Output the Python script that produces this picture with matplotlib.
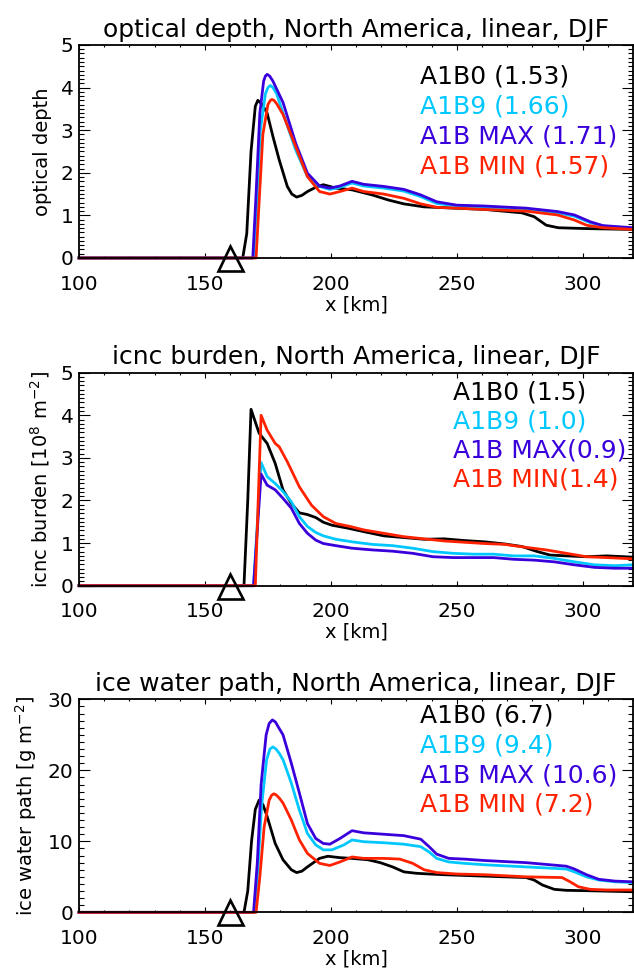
import numpy as np
import matplotlib
matplotlib.use("Agg")
import matplotlib.pyplot as plt
from matplotlib.ticker import MultipleLocator

plt.rcParams["font.family"] = ["DejaVu Sans"]

# ---------------- data ----------------
# optical depth
od_x_a1b0 = [100, 165, 166.6, 168.3, 170, 171, 172.5, 174.7, 177, 179.5, 182.7, 184.5, 186.4, 188.5, 190.7, 194, 197,
             202, 208.4, 216.4, 222.9, 229, 237, 245, 261, 275.8, 280.7, 285.5, 290.3, 301.5, 320]
od_y_a1b0 = [0, 0, 0.57, 2.5, 3.56, 3.7, 3.62, 3.4, 2.85, 2.3, 1.68, 1.5, 1.43, 1.47, 1.56, 1.66, 1.72,
             1.64, 1.6, 1.48, 1.36, 1.27, 1.2, 1.18, 1.14, 1.06, 0.97, 0.77, 0.71, 0.69, 0.67]
od_x_a1b9 = [100, 169.3, 170.5, 172, 174, 175, 176, 177, 178.5, 181, 186, 190.7, 195.5, 199.6, 203.6, 208.4, 213,
             221, 229, 235.7, 242, 250, 261, 277.5, 290, 296.7, 303, 308, 320]
od_y_a1b9 = [0, 0, 1.2, 3.0, 3.85, 4.0, 4.05, 4.0, 3.85, 3.4, 2.54, 1.91, 1.68, 1.61, 1.66, 1.76, 1.69,
             1.64, 1.57, 1.44, 1.28, 1.22, 1.19, 1.14, 1.06, 0.98, 0.83, 0.75, 0.69]
od_x_max = [100, 169, 170.3, 171.8, 173.3, 174, 174.7, 175.7, 177, 181, 186, 190.7, 195.5, 199.6, 203.6, 208.4, 213,
            221, 229, 235.7, 242, 250, 261, 277.5, 290, 296.7, 303, 308, 320]
od_y_max = [0, 0, 1.5, 3.4, 4.15, 4.27, 4.31, 4.27, 4.15, 3.65, 2.7, 1.99, 1.69, 1.64, 1.69, 1.8, 1.73,
            1.68, 1.61, 1.48, 1.32, 1.24, 1.22, 1.17, 1.09, 1.01, 0.85, 0.76, 0.71]
od_x_min = [100, 170.3, 171.5, 173, 175, 176, 176.6, 177.4, 178.5, 181, 186, 190.7, 195.5, 199.6, 203.6, 208.4, 213,
            221, 229, 235.7, 242, 250, 261, 277.5, 290, 296.7, 301.5, 308, 320]
od_y_min = [0, 0, 1.3, 2.9, 3.6, 3.7, 3.72, 3.7, 3.62, 3.37, 2.62, 1.91, 1.56, 1.5, 1.56, 1.64, 1.56,
            1.5, 1.4, 1.27, 1.19, 1.17, 1.14, 1.1, 1.01, 0.89, 0.77, 0.71, 0.67]

# icnc burden
ic_x_a1b0 = [100, 165.5, 167, 168.3, 171.5, 174.7, 177.9, 181, 184.3, 187.5, 190.7, 194, 197, 200.4, 206.8, 213,
             221, 229, 237, 245, 253, 261, 269, 275.8, 282, 287, 293.5, 301.5, 309.6, 320]
ic_y_a1b0 = [0, 0, 2.0, 4.14, 3.58, 3.34, 2.87, 2.25, 1.93, 1.71, 1.67, 1.6, 1.49, 1.42, 1.35, 1.27,
             1.17, 1.13, 1.09, 1.1, 1.06, 1.03, 0.98, 0.92, 0.8, 0.72, 0.7, 0.68, 0.7, 0.67]
ic_x_a1b9 = [100, 169.3, 172.3, 174.7, 177.9, 181, 184.3, 187.5, 190.7, 194, 197, 202, 208.4, 216.4, 224.5,
             232.5, 240.5, 248.5, 256.6, 264.6, 272.6, 280.7, 288.7, 296.7, 304.7, 312.8, 320]
ic_y_a1b9 = [0, 0, 2.89, 2.56, 2.4, 2.21, 1.97, 1.62, 1.39, 1.25, 1.17, 1.09, 1.03, 0.97, 0.94,
             0.88, 0.8, 0.76, 0.74, 0.74, 0.7, 0.7, 0.64, 0.56, 0.49, 0.47, 0.49]
ic_x_max = [100, 169.3, 172.3, 174.7, 177.9, 181, 184.3, 187.5, 190.7, 194, 197, 202, 208.4, 216.4, 224.5,
            232.5, 240.5, 248.5, 256.6, 264.6, 272.6, 280.7, 288.7, 296.7, 304.7, 312.8, 320]
ic_y_max = [0, 0, 2.62, 2.36, 2.25, 2.05, 1.82, 1.46, 1.23, 1.07, 0.99, 0.94, 0.88, 0.84, 0.81,
            0.76, 0.68, 0.66, 0.66, 0.66, 0.62, 0.6, 0.56, 0.49, 0.43, 0.41, 0.41]
ic_x_min = [100, 170, 172.3, 174.7, 177.9, 179.5, 182.7, 187.5, 192.3, 197, 202, 208.4, 213, 221, 229, 237,
            245, 253, 261, 269, 277.5, 285.5, 293.5, 301.5, 309.6, 320]
ic_y_min = [0, 0, 4.0, 3.65, 3.34, 3.26, 2.91, 2.32, 1.89, 1.62, 1.46, 1.38, 1.31, 1.23, 1.15, 1.1,
            1.05, 1.02, 0.99, 0.97, 0.9, 0.84, 0.76, 0.68, 0.66, 0.63]

# ice water path
iwp_x_a1b0 = [100, 165.5, 167, 168.5, 170, 171.5, 173, 174.7, 177.9, 181, 184.3, 186.4, 188.5, 190.7, 195.5, 198.8,
              203.6, 208.4, 214.8, 219.6, 224.5, 229, 234, 239, 245, 261, 277.5, 280.7, 284, 288.7, 293.5, 301.5, 320]
iwp_y_a1b0 = [0, 0, 3.0, 10.0, 14.5, 15.8, 15.2, 13.5, 9.7, 7.4, 6.0, 5.6, 5.8, 6.4, 7.6, 7.9,
              7.7, 7.6, 7.4, 7.0, 6.4, 5.7, 5.5, 5.4, 5.3, 5.1, 4.9, 4.55, 3.85, 3.24, 3.1, 3.05, 2.9]
iwp_x_a1b9 = [100, 169.5, 171, 172.5, 174.5, 175.8, 177, 178.2, 179.5, 181, 184.3, 187.5, 190.7, 194, 197, 200.4,
              205.2, 208.4, 213, 221, 229, 235.7, 239, 242, 246.8, 253, 261, 277.5, 293.5, 296.7, 301.5, 306.4,
              312.8, 320]
iwp_y_a1b9 = [0, 0, 6.0, 15.0, 21.5, 23.0, 23.3, 23.0, 22.4, 21.5, 18.2, 14.4, 11.1, 9.5, 8.8, 8.8,
              9.5, 10.2, 9.95, 9.8, 9.6, 9.25, 8.5, 7.6, 7.1, 6.9, 6.7, 6.4, 6.1, 5.7, 5.0, 4.55, 4.3, 4.2]
iwp_x_max = [100, 169.3, 170.8, 172.3, 174.3, 175.5, 176.8, 178, 179.3, 181, 184.3, 187.5, 190.7, 194, 197, 199.6,
             203.6, 208.4, 213, 221, 229, 235.7, 239, 242, 246.8, 253, 261, 277.5, 293.5, 296.7, 301.5, 306.4,
             312.8, 320]
iwp_y_max = [0, 0, 7.0, 18.0, 25.0, 26.6, 27.1, 26.8, 26.0, 25.0, 21.0, 16.8, 12.5, 10.4, 9.7, 9.6,
             10.4, 11.5, 11.2, 11.0, 10.8, 10.3, 9.25, 8.2, 7.6, 7.5, 7.3, 7.0, 6.5, 6.1, 5.3, 4.65, 4.4, 4.3]
iwp_x_min = [100, 170.3, 171.8, 173.5, 175.5, 176.5, 177.4, 178.4, 179.5, 181, 184.3, 187.5, 190.7, 195.5, 199.6,
             203.6, 208.4, 213, 221, 227.4, 232.5, 237, 242, 250, 261, 277.5, 291.8, 295, 298.3, 303, 309.6, 320]
iwp_y_min = [0, 0, 5.0, 12.0, 15.8, 16.5, 16.7, 16.5, 16.1, 15.4, 13.0, 10.2, 8.3, 6.9, 6.6,
             7.1, 7.8, 7.6, 7.6, 7.5, 6.9, 6.0, 5.6, 5.4, 5.3, 5.0, 4.9, 4.3, 3.6, 3.24, 3.15, 3.15]

# legend labels (mean values in brackets)
od_labels = ["A1B0 (1.53)", "A1B9 (1.66)", "A1B MAX (1.71)", "A1B MIN (1.57)"]
ic_labels = ["A1B0 (1.5)", "A1B9 (1.0)", "A1B MAX(0.9)", "A1B MIN(1.4)"]
iwp_labels = ["A1B0 (6.7)", "A1B9 (9.4)", "A1B MAX (10.6)", "A1B MIN (7.2)"]

mountain_x = 160.0
mountain_y = 0.0

colors = ["black", "#00c8ff", "#3a00dc", "#ff2200"]

panels = [
    dict(title="optical depth, North America, linear, DJF", ylabel="optical depth",
         xs=[od_x_a1b0, od_x_a1b9, od_x_max, od_x_min], ys=[od_y_a1b0, od_y_a1b9, od_y_max, od_y_min],
         labels=od_labels, ylim=(0, 5), major=1, minor=0.1, text_x=0.615,
         text_y=[0.85, 0.71, 0.57, 0.43], bottom=0.7343),
    dict(title="icnc burden, North America, linear, DJF", ylabel=r"icnc burden [10$^{8}$ m$^{-2}$]",
         xs=[ic_x_a1b0, ic_x_a1b9, ic_x_max, ic_x_min], ys=[ic_y_a1b0, ic_y_a1b9, ic_y_max, ic_y_min],
         labels=ic_labels, ylim=(0, 5), major=1, minor=0.1, text_x=0.675,
         text_y=[0.906, 0.770, 0.634, 0.500], bottom=0.3968),
    dict(title="ice water path, North America, linear, DJF", ylabel=r"ice water path [g m$^{-2}$]",
         xs=[iwp_x_a1b0, iwp_x_a1b9, iwp_x_max, iwp_x_min], ys=[iwp_y_a1b0, iwp_y_a1b9, iwp_y_max, iwp_y_min],
         labels=iwp_labels, ylim=(0, 30), major=10, minor=1, text_x=0.615,
         text_y=[0.926, 0.785, 0.644, 0.507], bottom=0.0604),
]

fig = plt.figure(figsize=(6.34, 9.71), dpi=100)

for p in panels:
    ax = fig.add_axes([0.1246, p["bottom"], 0.874, 0.2194])
    for x, y, c in zip(p["xs"], p["ys"], colors):
        ax.plot(x, y, color=c, lw=2.0, clip_on=False, solid_joinstyle="round")
    ax.plot([mountain_x], [mountain_y], marker="^", ms=18, mfc="none", mec="black", mew=1.9,
            clip_on=False, zorder=5)
    for lab, ty, c in zip(p["labels"], p["text_y"], colors):
        ax.text(p["text_x"], ty, lab, color=c, fontsize=18, transform=ax.transAxes, va="center", ha="left")

    ax.set_xlim(100, 320)
    ax.set_ylim(*p["ylim"])
    ax.xaxis.set_major_locator(MultipleLocator(50))
    ax.xaxis.set_minor_locator(MultipleLocator(10))
    ax.yaxis.set_major_locator(MultipleLocator(p["major"]))
    ax.yaxis.set_minor_locator(MultipleLocator(p["minor"]))
    ax.tick_params(axis="both", which="both", direction="in", top=True, right=True, labelsize=14.5, width=0.8)
    ax.tick_params(axis="x", which="major", length=3.3, pad=12)
    ax.tick_params(axis="x", which="minor", length=1.7)
    ax.tick_params(axis="y", which="major", length=7.7, pad=4)
    ax.tick_params(axis="y", which="minor", length=3.6)
    for s in ax.spines.values():
        s.set_linewidth(1.3)

    ax.set_title(p["title"], fontsize=18, pad=6)
    ax.set_xlabel("x [km]", fontsize=14, labelpad=1)
    ax.set_ylabel(p["ylabel"], fontsize=14, labelpad=6)

fig.savefig("out.png", dpi=100)
